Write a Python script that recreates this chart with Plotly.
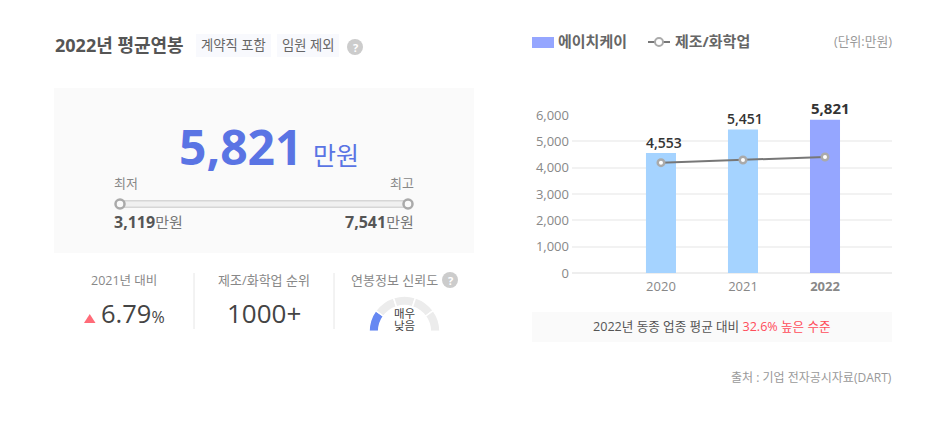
#!/usr/bin/env python3
"""Average salary card: summary panel on the left, bar/line comparison on the right."""

import plotly.graph_objects as go

W, H = 951, 430
FONT = "Open Sans, Noto Sans CJK KR, sans-serif"
KR = "Noto Sans CJK KR, sans-serif"

years = ["2020", "2021", "2022"]
year_labels = ["2020", "2021", "<b>2022</b>"]
company_salary = [4553, 5451, 5821]
industry_salary = [4190, 4290, 4405]
bar_colors = ["#a5d3ff", "#a5d3ff", "#95a6ff"]
y_ticks = [0, 1000, 2000, 3000, 4000, 5000, 6000]

salary_range = [3119, 7541]
gauge_parts = [1, 1, 1, 1, 1, 5]
gauge_colors = ["#6688f2", "#ececec", "#ececec", "#ececec", "#ececec", "rgba(0,0,0,0)"]
gauge_caption = ["매우", "낮음"]


def px(x):
    return x / W


def py(y):
    return 1 - y / H


def rect(x0, y0, x1, y1, fill, layer="below"):
    return dict(type="rect", xref="paper", yref="paper", x0=px(x0), x1=px(x1), y0=py(y0), y1=py(y1),
                fillcolor=fill, line_width=0, layer=layer)


def vline(x, y0, y1):
    return dict(type="line", xref="paper", yref="paper", x0=px(x), x1=px(x), y0=py(y0), y1=py(y1),
                line=dict(color="#e6e6e6", width=1), layer="below")


def label(x, y, text, size=13, color="#888888", anchor="center", family=FONT):
    return dict(xref="paper", yref="paper", x=px(x), y=py(y), text=text, showarrow=False, xanchor=anchor,
                yanchor="middle", align=anchor, font=dict(size=size, color=color, family=family),
                borderpad=0, borderwidth=0)


def help_icon(x, y):
    shape = dict(type="circle", xref="paper", yref="paper", x0=px(x - 8), x1=px(x + 8), y0=py(y - 8), y1=py(y + 8),
                 fillcolor="#cccccc", line_width=0, layer="below")
    return shape, label(x, y, "<b>?</b>", size=11, color="#ffffff")


def bar_label(index, xshift, yshift, size, weight):
    # category axis, so x is the position of the year in the list
    value = company_salary[index]
    return dict(xref="x", yref="y", x=index, y=value, text=f"{value:,}", showarrow=False, xanchor="center",
                yanchor="bottom", xshift=xshift, yshift=yshift, borderpad=0,
                font=dict(family=FONT, size=size, color="#333333", weight=weight))


fig = go.Figure()

# right chart
fig.add_trace(go.Bar(x=years, y=company_salary, width=0.366, marker=dict(color=bar_colors, line_width=0),
                     cliponaxis=False, hoverinfo="x+y"))
fig.add_trace(go.Scatter(x=years, y=industry_salary, mode="lines+markers", cliponaxis=False,
                         line=dict(color="#777777", width=2),
                         marker=dict(size=6.5, color="#ffffff", line=dict(color="#aaaaaa", width=2.5))))

# min/max slider in the left panel, on its own value axis
fig.add_trace(go.Scatter(x=salary_range, y=[0, 0], mode="lines", xaxis="x2", yaxis="y2", cliponaxis=False,
                         line=dict(color="#d6d6d6", width=8)))
fig.add_trace(go.Scatter(x=salary_range, y=[0, 0], mode="lines+markers", xaxis="x2", yaxis="y2", cliponaxis=False,
                         line=dict(color="#f0f0f0", width=5),
                         marker=dict(size=9, color="#fafafa", line=dict(color="#aaaaaa", width=2.5))))

# gauge, lower half is left transparent
fig.add_trace(go.Pie(values=gauge_parts, marker=dict(colors=gauge_colors, line=dict(color="#ffffff", width=1.5)),
                     hole=0.73, sort=False, direction="clockwise", rotation=270, textinfo="none", hoverinfo="skip",
                     domain=dict(x=[px(369), px(440)], y=[py(367), py(296)])))

# gauge caption runs past the card edge, so it goes on a clipped axis
fig.add_trace(go.Scatter(x=[0.5, 0.5], y=[0.54, 0.15], text=gauge_caption, mode="text", xaxis="x3", yaxis="y3",
                         cliponaxis=True, hoverinfo="skip", textposition="middle center",
                         textfont=dict(family=KR, size=11.5, color="#444444")))

q1, q1_label = help_icon(355, 47)
q2, q2_label = help_icon(450, 280)

shapes = [
    rect(54, 88, 474, 253, "#fafafa"),
    rect(196, 34, 271, 57, "#f8f9fd"),
    rect(277, 34, 339, 57, "#f8f9fd"),
    rect(532, 312, 892, 342, "#fafafa"),
    rect(532, 37, 554, 48, "#95a6ff"),
    vline(194, 273, 329),
    vline(334, 273, 329),
    q1,
    q2,
    dict(type="path", xref="paper", yref="paper", fillcolor="#ff6b78", line_width=0, layer="below",
         path=f"M {px(84)} {py(323)} L {px(95.5)} {py(323)} L {px(89.75)} {py(314)} Z"),
    dict(type="line", xref="paper", yref="paper", x0=px(648), x1=px(670), y0=py(42), y1=py(42),
         line=dict(color="#777777", width=2)),
    dict(type="circle", xref="paper", yref="paper", x0=px(655), x1=px(663), y0=py(38), y1=py(46),
         fillcolor="#ffffff", line=dict(color="#aaaaaa", width=2)),
]

annotations = [
    label(55, 45, "<b>2022년 평균연봉</b>", size=18, color="#555555", anchor="left"),
    label(233.5, 45, "계약직 포함", size=13.3, color="#666666"),
    label(308, 45, "임원 제외", size=13.3, color="#666666"),
    q1_label,
    q2_label,
    label(302, 146, f"<b>{company_salary[-1]:,}</b>", size=48, color="#5a74e4", anchor="right"),
    label(313, 155, "만원", size=25, color="#5a74e4", anchor="left"),
    label(114, 183, "최저", size=13, anchor="left"),
    label(414, 183, "최고", size=13, anchor="right"),
    label(114, 222, f"<b style='font-size:16px;color:#555555'>{salary_range[0]:,}</b>만원", size=15, color="#777777",
          anchor="left"),
    label(414, 222, f"<b style='font-size:16px;color:#555555'>{salary_range[1]:,}</b>만원", size=15, color="#777777",
          anchor="right"),
    label(124, 280, "2021년 대비", size=12.5),
    label(264, 280, "제조/화학업 순위", size=13),
    label(394, 280, "연봉정보 신뢰도", size=13),
    label(101, 313, "6.79<span style='font-size:16px'>%</span>", size=25.5, color="#444444", anchor="left"),
    label(264, 313, "1000+", size=26, color="#444444"),
    label(558, 41, "<b>에이치케이</b>", size=15, color="#666666", anchor="left"),
    label(675, 41, "<b>제조/화학업</b>", size=15, color="#666666", anchor="left"),
    label(892, 41, "(단위:만원)", size=12.8, color="#999999", anchor="right"),
    label(712, 326, "2022년 동종 업종 평균 대비 <span style='color:#ff4d5a'>32.6% 높은 수준</span>", size=12.6,
          color="#555555"),
    label(892, 377, "출처 : 기업 전자공시자료(DART)", size=12, color="#999999", anchor="right"),
    bar_label(0, 3, 0, 14, 600),
    bar_label(1, 2.5, 0, 14, 600),
    bar_label(2, 5, 1, 15, 700),
]

fig.update_layout(
    width=W, height=H, margin=dict(l=0, r=0, t=0, b=0, autoexpand=False), showlegend=False, autosize=False,
    paper_bgcolor="#ffffff", plot_bgcolor="rgba(0,0,0,0)", font=dict(family=FONT),
    shapes=shapes, annotations=annotations,
    xaxis=dict(domain=[px(572), px(892)], range=[-1.085, 2.817], type="category", tickmode="array", tickvals=years,
               ticktext=year_labels, tickfont=dict(size=13, color="#888888"), showgrid=False, zeroline=False,
               showline=False, ticks="", ticklabelstandoff=4),
    yaxis=dict(domain=[py(273), py(115)], range=[0, 6000], tickmode="array", tickvals=y_ticks, tickformat=",",
               tickfont=dict(size=13, color="#888888"), gridcolor="#f2f2f2", gridwidth=1.5, zeroline=True,
               zerolinecolor="#eeeeee", zerolinewidth=1.5, ticks="", ticklabelstandoff=2),
    xaxis2=dict(domain=[px(120), px(408)], range=salary_range, visible=False, anchor="y2"),
    yaxis2=dict(domain=[py(214), py(194)], range=[-1, 1], visible=False, anchor="x2"),
    xaxis3=dict(domain=[px(380), px(429)], range=[0, 1], visible=False, anchor="y3"),
    yaxis3=dict(domain=[py(332), py(300)], range=[0, 1], visible=False, anchor="x3"),
)

fig.write_html("out.html", config=dict(displayModeBar=False), post_script="document.body.style.margin='0';")
